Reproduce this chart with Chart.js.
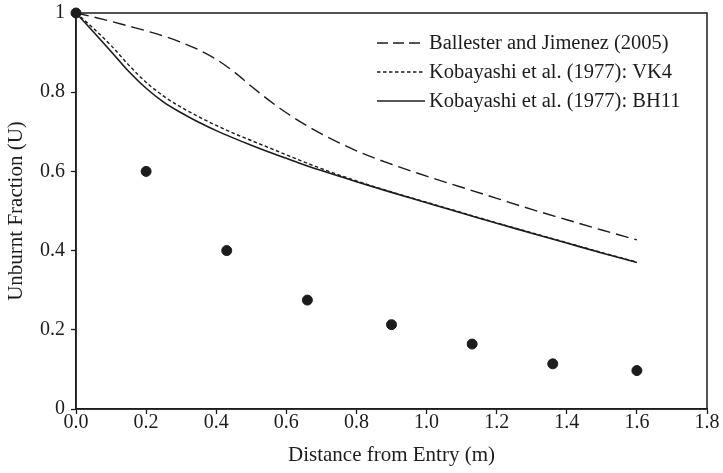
<!doctype html>
<html lang="en">
<head>
<meta charset="utf-8">
<style>
  html, body { margin: 0; padding: 0; background: #fff; }
</style>
</head>
<body>
<canvas id="lineChart" width="723" height="473"></canvas>

<script src="https://cdn.jsdelivr.net/npm/chart.js"></script>
<script>
    // curve data, x in metres
    var curveX = [0, 0.05, 0.1, 0.15, 0.2, 0.25, 0.3, 0.35, 0.4, 0.45, 0.5, 0.55, 0.6, 0.65, 0.7, 0.8, 0.9, 1.0, 1.1, 1.2, 1.3, 1.4, 1.5, 1.6];
    var ballester = [1, 0.990, 0.979, 0.967, 0.955, 0.942, 0.926, 0.907, 0.883, 0.852, 0.815, 0.780, 0.748, 0.720, 0.695, 0.652, 0.618, 0.588, 0.560, 0.532, 0.504, 0.478, 0.452, 0.427];
    var vk4 = [1, 0.961, 0.918, 0.869, 0.825, 0.790, 0.762, 0.738, 0.716, 0.696, 0.678, 0.660, 0.642, 0.624, 0.607, 0.576, 0.548, 0.522, 0.496, 0.470, 0.445, 0.420, 0.395, 0.371];
    var bh11 = [1, 0.952, 0.903, 0.853, 0.810, 0.775, 0.748, 0.724, 0.703, 0.684, 0.666, 0.649, 0.633, 0.617, 0.602, 0.574, 0.547, 0.521, 0.495, 0.469, 0.444, 0.419, 0.394, 0.370];

    // measured points
    var measX = [0, 0.2, 0.43, 0.66, 0.9, 1.13, 1.36, 1.6];
    var measU = [1, 0.6, 0.4, 0.275, 0.213, 0.164, 0.114, 0.097];

    var xTicks = [0, 0.2, 0.4, 0.6, 0.8, 1.0, 1.2, 1.4, 1.6, 1.8];
    var yTicks = [0, 0.2, 0.4, 0.6, 0.8, 1];

    var FONT = "'Liberation Serif', 'DejaVu Serif', serif";
    var INK = '#1c1c1c';

    function pairs(xs, ys) {
        return xs.map(function(x, i) { return { x: x, y: ys[i] }; });
    }

    // box round the plot (under the marks) plus the legend inside it
    var frameAndLegend = {
        id: 'frameAndLegend',
        beforeDatasetsDraw: function(chart) {
            let ctx = chart.ctx;
            let a = chart.chartArea;
            ctx.save();
            ctx.strokeStyle = INK;
            ctx.lineWidth = 1.5;
            ctx.strokeRect(a.left, a.top, a.right - a.left, a.bottom - a.top);
            ctx.restore();
        },
        afterDraw: function(chart) {
            let ctx = chart.ctx;
            let a = chart.chartArea;
            ctx.save();
            let x0 = a.left + 301, x1 = a.left + 349, y = a.top + 30;
            ctx.font = '20.5px ' + FONT;
            ctx.textBaseline = 'middle';
            chart.data.datasets.forEach(function(ds) {
                if (!ds.showInLegend) return;
                ctx.strokeStyle = ds.borderColor;
                ctx.lineWidth = ds.borderWidth;
                ctx.setLineDash(ds.legendDash || ds.borderDash || []);
                ctx.beginPath();
                ctx.moveTo(x0, y);
                ctx.lineTo(x1, y);
                ctx.stroke();
                ctx.setLineDash([]);
                ctx.fillStyle = INK;
                ctx.fillText(ds.label, x1 + 4, y + 1);
                y += 29;
            });
            ctx.restore();
        }
    };

    let ctx = document.getElementById('lineChart').getContext('2d');
    window.myLine = new Chart(ctx, {
        type: 'scatter',
        data: {
            datasets: [{
                label: 'Ballester and Jimenez (2005)',
                showInLegend: true,
                type: 'line',
                data: pairs(curveX, ballester),
                borderColor: INK,
                borderWidth: 1.4,
                borderDash: [13, 6],
                legendDash: [11, 5],
                pointRadius: 0,
                cubicInterpolationMode: 'monotone',
                fill: false
            }, {
                label: 'Kobayashi et al. (1977): VK4',
                showInLegend: true,
                type: 'line',
                data: pairs(curveX, vk4),
                borderColor: INK,
                borderWidth: 1.4,
                borderDash: [3.5, 2.5],
                pointRadius: 0,
                cubicInterpolationMode: 'monotone',
                fill: false
            }, {
                label: 'Kobayashi et al. (1977): BH11',
                showInLegend: true,
                type: 'line',
                data: pairs(curveX, bh11),
                borderColor: INK,
                borderWidth: 1.6,
                pointRadius: 0,
                cubicInterpolationMode: 'monotone',
                fill: false
            }, {
                label: 'Measured',
                data: pairs(measX, measU),
                backgroundColor: INK,
                borderColor: INK,
                pointRadius: 5,
                pointHoverRadius: 5,
                clip: false
            }]
        },
        options: {
            responsive: false,
            animation: false,
            maintainAspectRatio: false,
            devicePixelRatio: 1,
            layout: { padding: { top: 13, right: 16, left: 0, bottom: 0 } },
            plugins: {
                legend: { display: false },
                tooltip: { enabled: false }
            },
            scales: {
                x: {
                    type: 'linear',
                    min: 0,
                    max: 1.8,
                    afterBuildTicks: function(scale) {
                        scale.ticks = xTicks.map(function(v) { return { value: v }; });
                    },
                    afterFit: function(scale) {
                        scale.height = 64;
                        scale.paddingLeft = 0;
                        scale.paddingRight = 0;
                    },
                    grid: { drawOnChartArea: false, drawTicks: true, tickLength: 5, tickColor: INK, tickWidth: 1.3 },
                    border: { color: INK, width: 1.5 },
                    ticks: {
                        color: INK,
                        padding: -1,
                        maxRotation: 0,
                        font: { family: FONT, size: 20, lineHeight: 1 },
                        callback: function(v) { return v.toFixed(1); }
                    },
                    title: {
                        display: true,
                        text: 'Distance from Entry (m)',
                        color: INK,
                        padding: { top: 0, bottom: 5 },
                        font: { family: FONT, size: 21 }
                    }
                },
                y: {
                    type: 'linear',
                    min: 0,
                    max: 1,
                    afterBuildTicks: function(scale) {
                        scale.ticks = yTicks.map(function(v) { return { value: v }; });
                    },
                    afterFit: function(scale) {
                        scale.width = 76;
                        scale.paddingTop = 0;
                        scale.paddingBottom = 0;
                    },
                    grid: { drawOnChartArea: false, drawTicks: true, tickLength: 5, tickColor: INK, tickWidth: 1.3 },
                    border: { color: INK, width: 1.5 },
                    ticks: {
                        color: INK,
                        padding: 6,
                        font: { family: FONT, size: 20 },
                        callback: function(v) { return (v === 0 || v === 1) ? String(v) : v.toFixed(1); }
                    },
                    title: {
                        display: true,
                        text: 'Unburnt Fraction (U)',
                        color: INK,
                        padding: { top: 4, bottom: 0 },
                        font: { family: FONT, size: 21 }
                    }
                }
            }
        },
        plugins: [frameAndLegend]
    });
</script>
</body>
</html>
